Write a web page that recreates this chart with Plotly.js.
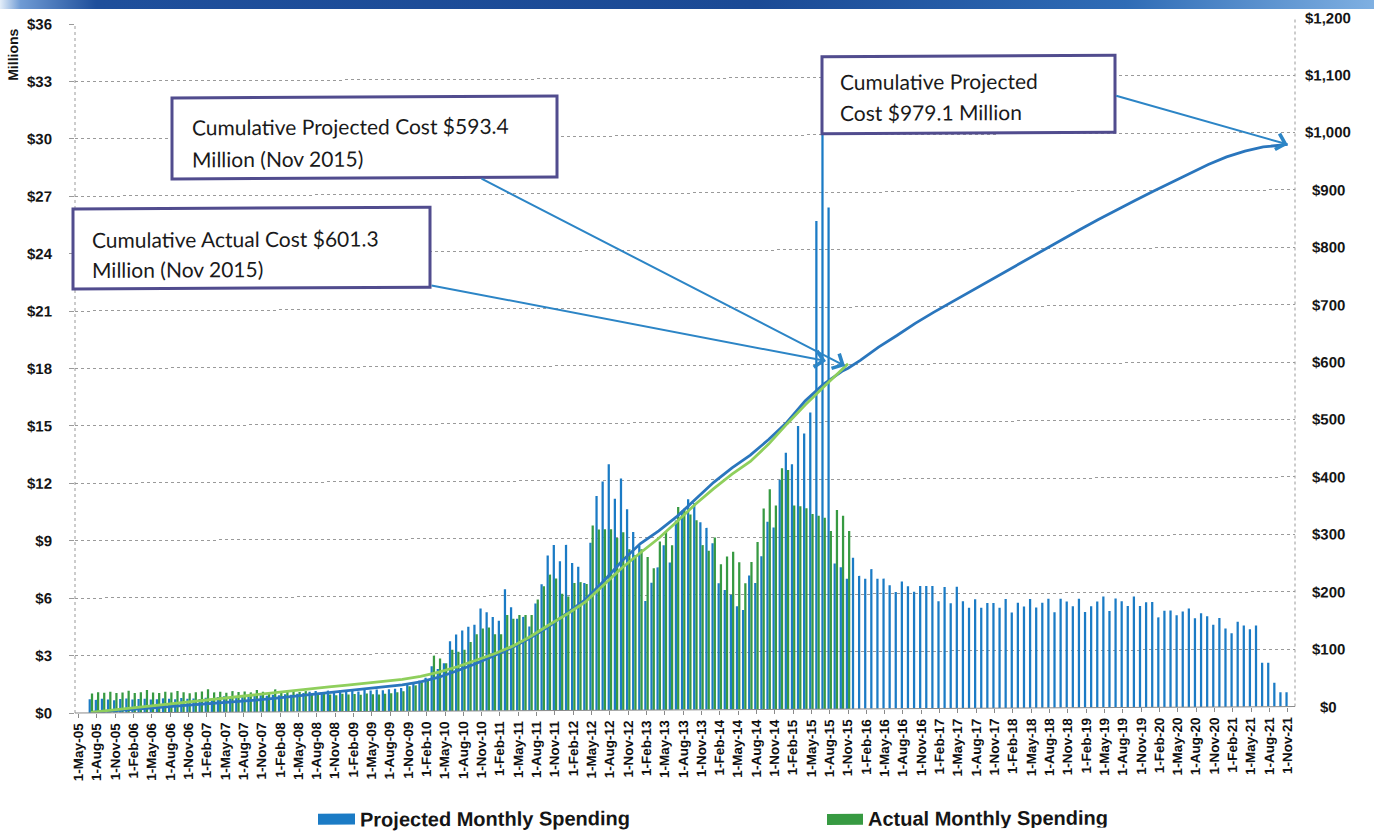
<!DOCTYPE html>
<html>
<head>
<meta charset="utf-8">
<script src="https://cdn.plot.ly/plotly-3.0.1.min.js"></script>
<style>
  html, body { margin: 0; padding: 0; background: #ffffff; }
  #wrap { position: relative; width: 1374px; height: 833px; overflow: hidden; background: #ffffff; }
  #chart { position: absolute; left: 0; top: 0; width: 1374px; height: 833px;
           transform: skewY(-0.3deg); transform-origin: 75px 0; }
  #band { position: absolute; left: 0; top: 0; width: 1374px; height: 9px; z-index: 2;
          background: linear-gradient(to right, #e4eef9 0%, #6f9bd4 1.5%, #1f4f9b 7%, #1b4a95 55%, #2f6cb6 82%, #7fb0e2 100%); }
</style>
</head>
<body>
<div id="wrap"><div id="chart"></div><div id="band"></div></div>
<script>
// ---------- categories: one per month, May 2005 .. Nov 2021 ----------
const MONTH_NAMES = ['Jan','Feb','Mar','Apr','May','Jun','Jul','Aug','Sep','Oct','Nov','Dec'];
const FIRST_YEAR = 2005, FIRST_MONTH = 4, MONTH_COUNT = 199;
const months = [];
for (let k = 0; k < MONTH_COUNT; k++) {
  const m = (FIRST_MONTH + k) % 12;
  const y = FIRST_YEAR + Math.floor((FIRST_MONTH + k) / 12);
  months.push('1-' + MONTH_NAMES[m] + '-' + String(y % 100).padStart(2, '0'));
}

// ---------- monthly spending, $ millions ----------
const projectedMonthly = [
  null, null,
  0.72, 0.68, 0.74, 0.70, 0.66, 0.72, 0.75, 0.69, 0.71, 0.73, 0.68, 0.70, 0.74, 0.72, 0.69, 0.75, 0.71, 0.73, 0.70, 0.76, 0.74,
  0.80, 0.83, 0.78, 0.85, 0.82, 0.86, 0.84, 0.88, 0.85, 0.90, 0.87, 0.92, 0.90, 0.95, 0.98,
  1.05, 1.08, 1.02, 1.10, 1.06, 1.12, 1.08, 1.10, 1.05, 1.12, 1.09, 1.14, 1.10, 1.15, 1.18, 1.22,
  1.40, 1.45, 1.60, 1.75,
  2.35, 2.2, 2.5, 3.65, 4.0, 4.2, 4.4, 4.5, 5.35, 5.15, 4.9, 4.7, 6.35, 5.4, 4.8, 4.9, 4.4, 5.6, 6.6, 8.1,
  8.65, 7.8, 8.65, 7.7, 7.5, 6.65, 8.75, 11.2, 11.95, 12.85, 11.05, 12.1, 10.5, 9.3, 8.6, 5.7, 6.65, 7.45,
  8.6, 7.7, 9.9, 10.4, 11.0, 10.8,
  9.8, 9.5, 8.7, 6.6, 6.25, 6.0, 5.4, 5.2, 7.0, 6.6, 8.0, 9.8, 9.5, 12.0, 13.4, 12.8, 14.8, 14.4, 15.5,
  25.5, 32.0, 26.2, 7.6, 7.4, 6.8,
  7.9, 6.95, 6.8, 7.3, 6.8, 6.8, 6.45, 6.1, 6.65, 6.4, 6.1, 6.4, 6.4, 6.4, 5.6, 6.35, 5.5, 6.35, 5.6, 5.25,
  5.7, 5.25, 5.5, 5.5, 5.25, 5.7, 5.0, 5.5, 5.3, 5.7, 5.25, 5.5, 5.7, 5.0, 5.7, 5.55, 5.3, 5.7, 5.0, 5.3,
  5.55, 5.8, 5.05, 5.7, 5.55, 5.3, 5.8, 5.3, 5.5, 5.5, 4.7, 5.05, 5.05, 4.8, 5.0, 5.15, 4.65, 4.9, 4.75, 4.3,
  4.65, 4.1, 3.85, 4.45, 4.25, 4.05, 4.25, 2.3, 2.3, 1.25, 0.75, 0.75
];

const actualMonthly = [
  null, null,
  1.02, 1.08, 1.05, 1.10, 1.04, 1.06, 1.15, 1.03, 1.07, 1.18, 1.05, 1.02, 1.08, 1.04, 1.12, 1.06, 1.00, 1.05,
  1.09, 1.20, 1.04, 1.07, 1.02, 1.10, 1.05, 1.08, 1.03, 1.15, 1.06, 1.04, 1.18, 1.07, 1.05, 1.10, 1.04, 1.08,
  0.92, 0.88, 0.95, 0.90, 0.86, 0.93, 0.89, 0.91, 0.87, 0.94, 0.90, 0.88, 0.92, 0.95, 1.00, 1.05,
  1.30, 1.35, 1.50, 1.60,
  2.9, 2.75, 2.5, 3.2, 3.1, 3.2, 3.6, 4.0, 4.3, 4.35, 4.0, 4.0, 5.0, 4.8, 5.0, 5.0, 5.0, 5.8, 6.5, 7.1,
  6.9, 6.1, 5.95, 6.65, 6.7, 6.6, 9.65, 9.45, 9.45, 9.45, 9.0, 9.3, 8.4, 8.1, 8.4, 8.0, 7.4, 8.8,
  9.3, 8.6, 10.6, 10.5, 10.2, 9.9,
  8.6, 8.3, 9.0, 7.6, 8.0, 8.25, 7.7, 6.6, 7.7, 8.75, 10.5, 11.5, 10.65, 12.6, 12.5, 10.65, 10.6, 10.5, 10.2,
  10.1, 10.0, 9.3, 10.4, 10.1, 9.3
];

// ---------- cumulative spending, $ millions ----------
const cumActualMonths = ['1-Jul-05','1-Oct-05','1-Jan-06','1-Apr-06','1-Jul-06','1-Oct-06','1-Jan-07','1-Apr-07',
  '1-Jul-07','1-Oct-07','1-Jan-08','1-Apr-08','1-Jul-08','1-Oct-08','1-Jan-09','1-Apr-09','1-Jul-09','1-Oct-09',
  '1-Jan-10','1-Apr-10','1-Jul-10','1-Oct-10','1-Jan-11','1-Apr-11','1-Jul-11','1-Oct-11','1-Jan-12','1-Apr-12',
  '1-Jul-12','1-Oct-12','1-Jan-13','1-Apr-13','1-Jul-13','1-Oct-13','1-Jan-14','1-Apr-14','1-Jul-14','1-Oct-14',
  '1-Jan-15','1-Apr-15','1-Jul-15','1-Oct-15','1-Nov-15'];
const cumActualValues = [1.1, 4.4, 7.8, 11, 14.3, 17.5, 20.8, 24, 27.3, 30.5, 33.7, 36.8, 40, 43, 46.2, 49.3, 52.4, 55.5,
  60.5, 68, 77, 88, 99, 112, 129, 149, 168, 189, 219, 248, 274, 299, 328, 358, 385, 410, 432, 462,
  497, 530, 561, 591, 601.3];

const cumProjectedMonths = ['1-Jul-05','1-Oct-05','1-Jan-06','1-Apr-06','1-Jul-06','1-Oct-06','1-Jan-07','1-Apr-07',
  '1-Jul-07','1-Oct-07','1-Jan-08','1-Apr-08','1-Jul-08','1-Oct-08','1-Jan-09','1-Apr-09','1-Jul-09','1-Oct-09',
  '1-Jan-10','1-Apr-10','1-Jul-10','1-Oct-10','1-Jan-11','1-Apr-11','1-Jul-11','1-Oct-11','1-Jan-12','1-Apr-12',
  '1-Jul-12','1-Oct-12','1-Jan-13','1-Apr-13','1-Jul-13','1-Oct-13','1-Jan-14','1-Apr-14','1-Jul-14','1-Oct-14',
  '1-Jan-15','1-Apr-15','1-Jul-15','1-Oct-15','1-Nov-15','1-Jan-16','1-Apr-16','1-Jul-16','1-Oct-16','1-Jan-17',
  '1-Apr-17','1-Jul-17','1-Oct-17','1-Jan-18','1-Apr-18','1-Jul-18','1-Oct-18','1-Jan-19','1-Apr-19','1-Jul-19',
  '1-Oct-19','1-Jan-20','1-Apr-20','1-Jul-20','1-Oct-20','1-Jan-21','1-Apr-21','1-Jul-21','1-Oct-21','1-Nov-21'];
const cumProjectedValues = [0.7, 2.8, 4.9, 7, 9.1, 11.3, 13.5, 15.8, 18.2, 20.8, 23.5, 26.5, 29.6, 32.8, 36, 39.3, 42.5, 45.8,
  51, 59, 70, 82, 96, 110, 127, 146, 170, 193, 225, 260, 290, 312, 337, 366, 396, 421, 443, 470,
  500, 537, 566, 588, 593.4, 607, 630, 650, 671, 690, 708, 726, 744, 762, 779, 797, 815, 833, 850, 867,
  883, 899, 914, 930, 945, 958, 968, 975, 978.5, 979.1];

// ---------- axis labels ----------
const tickEvery = 3;
const xTickVals = [], xTickText = [];
for (let k = 0; k < MONTH_COUNT; k += tickEvery) { xTickVals.push(k); xTickText.push(months[k]); }
const leftTickValues = [0, 3, 6, 9, 12, 15, 18, 21, 24, 27, 30, 33, 36];
const leftTickText = ['$0','$3','$6','$9','$12','$15','$18','$21','$24','$27','$30','$33','$36'];
const rightTickValues = [0, 100, 200, 300, 400, 500, 600, 700, 800, 900, 1000, 1100, 1200];
const rightTickText = ['$0','$100','$200','$300','$400','$500','$600','$700','$800','$900','$1,000','$1,100','$1,200'];

// ---------- styling ----------
const LABEL_FONT = "'Liberation Sans', Arial, sans-serif";
const CALLOUT_FONT = "Lato, 'Open Sans', sans-serif";
const BLUE_BAR = '#1b7bc5', GREEN_BAR = '#379a42';
const BLUE_LINE = '#2a76bd', GREEN_LINE = '#8fcf5c';
const ARROW = '#2c85c6', BOX = '#514c8e';

const PLOT_L = 75, PLOT_R = 1295, PLOT_T = 24, PLOT_B = 713;
const px = x => (x - PLOT_L) / (PLOT_R - PLOT_L);
const py = y => (PLOT_B - y) / (PLOT_B - PLOT_T);

const idx = labels => labels.map(l => months.indexOf(l));
const monthIndex = months.map((_, i) => i);

const traces = [
  { type: 'bar', name: 'Projected Monthly Spending', x: monthIndex, y: projectedMonthly,
    marker: { color: BLUE_BAR, line: { width: 0 } }, yaxis: 'y' },
  { type: 'bar', name: 'Actual Monthly Spending', x: monthIndex.slice(0, actualMonthly.length), y: actualMonthly,
    marker: { color: GREEN_BAR, line: { width: 0 } }, yaxis: 'y' },
  { type: 'scatter', mode: 'lines', name: 'Cumulative Projected', x: idx(cumProjectedMonths), y: cumProjectedValues,
    line: { color: BLUE_LINE, width: 2.8 }, yaxis: 'y2' },
  { type: 'scatter', mode: 'lines', name: 'Cumulative Actual', x: idx(cumActualMonths), y: cumActualValues,
    line: { color: GREEN_LINE, width: 2.8 }, yaxis: 'y2' }
];

function box(x0, y0, x1, y1) {
  return { type: 'rect', xref: 'paper', yref: 'paper', x0: px(x0), x1: px(x1), y0: py(y1), y1: py(y0),
           line: { color: BOX, width: 3 }, fillcolor: '#ffffff', layer: 'above' };
}
function textLine(x, y, text) {
  return { xref: 'paper', yref: 'paper', x: px(x), y: py(y), xanchor: 'left', yanchor: 'middle',
           text: text, showarrow: false, font: { family: CALLOUT_FONT, size: 21, color: '#1a1a1a' } };
}
function arrowTo(tip, ax, ay) {
  return Object.assign({ text: '', showarrow: true, axref: 'pixel', ayref: 'pixel', ax: ax, ay: ay,
           arrowhead: 4, arrowsize: 1.6, arrowwidth: 2, arrowcolor: ARROW, standoff: 0 }, tip);
}
function label(x, y, text, size, extra) {
  return Object.assign({ xref: 'paper', yref: 'paper', x: x, y: y, text: text, showarrow: false,
           font: { family: LABEL_FONT, size: size, color: '#151515', weight: 'bold' } }, extra);
}

const shapes = [
  { type: 'line', xref: 'paper', yref: 'paper', x0: 0, x1: 0, y0: 0, y1: 1, line: { color: '#9a9a9a', width: 1, dash: 'dot' } },
  { type: 'line', xref: 'paper', yref: 'paper', x0: 1, x1: 1, y0: 0, y1: 1, line: { color: '#9a9a9a', width: 1, dash: 'dot' } },
  { type: 'line', xref: 'paper', yref: 'paper', x0: 0, x1: 1, y0: 0, y1: 0, line: { color: '#8a8a8a', width: 1 } },
  box(172, 98.5, 557, 179.5),
  box(73, 209, 430, 289),
  box(822, 60.7, 1115, 137.7),
  // legend swatches
  { type: 'rect', xref: 'paper', yref: 'paper', x0: px(318), x1: px(355), y0: py(826), y1: py(815),
    line: { width: 0 }, fillcolor: BLUE_BAR },
  { type: 'rect', xref: 'paper', yref: 'paper', x0: px(827), x1: px(863), y0: py(829), y1: py(818),
    line: { width: 0 }, fillcolor: GREEN_BAR }
];

const annotations = [
  // callouts
  textLine(190, 128, 'Cumulative Projected Cost $593.4'),
  textLine(190, 159, 'Million (Nov 2015)'),
  textLine(90, 239, 'Cumulative Actual Cost $601.3'),
  textLine(90, 269, 'Million (Nov 2015)'),
  textLine(838, 85, 'Cumulative Projected'),
  textLine(838, 116, 'Cost $979.1 Million'),
  arrowTo({ xref: 'paper', yref: 'paper', x: px(845), y: py(370) }, 480 - 845, 180 - 370),
  arrowTo({ xref: 'paper', yref: 'paper', x: px(826), y: py(365) }, 430 - 826, 287 - 365),
  arrowTo({ xref: 'x', yref: 'y2', x: months.indexOf('1-Nov-21'), y: 979.1 }, 1115 - 1288, 100 - 150),
  // axis unit
  label(px(13.5), py(55), 'Millions', 14, { textangle: -90, xanchor: 'center', yanchor: 'middle' }),
  // legend text
  label(px(358), py(821), 'Projected Monthly Spending', 20, { xanchor: 'left', yanchor: 'middle' }),
  label(px(866), py(823), 'Actual Monthly Spending', 20, { xanchor: 'left', yanchor: 'middle' })
];
// right-hand axis labels, centred in their column
rightTickValues.forEach((v, i) => annotations.push(
  Object.assign(label(px(1328), v, rightTickText[i], 15, { xanchor: 'center', yanchor: 'middle' }), { yref: 'y2' })
));

const layout = {
  width: 1374, height: 833,
  margin: { l: PLOT_L, r: 1374 - PLOT_R, t: PLOT_T, b: 833 - PLOT_B, pad: 0 },
  paper_bgcolor: '#ffffff', plot_bgcolor: '#ffffff',
  barmode: 'group', bargap: 0.26, bargroupgap: 0,
  showlegend: false, hovermode: false,
  xaxis: {
    range: [-0.6, 199.2], tickmode: 'array', tickvals: xTickVals, ticktext: xTickText, tickangle: -90,
    ticks: 'outside', ticklen: 4, tickcolor: '#8a8a8a', showgrid: false, zeroline: false, showline: false,
    tickfont: { family: LABEL_FONT, size: 13.5, color: '#111111', weight: 'bold' }
  },
  yaxis: {
    range: [0, 36], tickmode: 'array', tickvals: leftTickValues, ticktext: leftTickText,
    showgrid: true, gridcolor: '#9a9a9a', griddash: 'dot', gridwidth: 1, zeroline: false, showline: false,
    ticks: 'outside', ticklen: 5, tickcolor: '#9a9a9a', ticklabelstandoff: 14,
    tickfont: { family: LABEL_FONT, size: 15, color: '#151515', weight: 'bold' }
  },
  yaxis2: {
    range: [0, 1200], overlaying: 'y', side: 'right', showgrid: false, zeroline: false,
    showticklabels: false, ticks: '', showline: false
  },
  shapes: shapes,
  annotations: annotations
};

Plotly.newPlot('chart', traces, layout, { displayModeBar: false, staticPlot: true });
</script>
</body>
</html>
